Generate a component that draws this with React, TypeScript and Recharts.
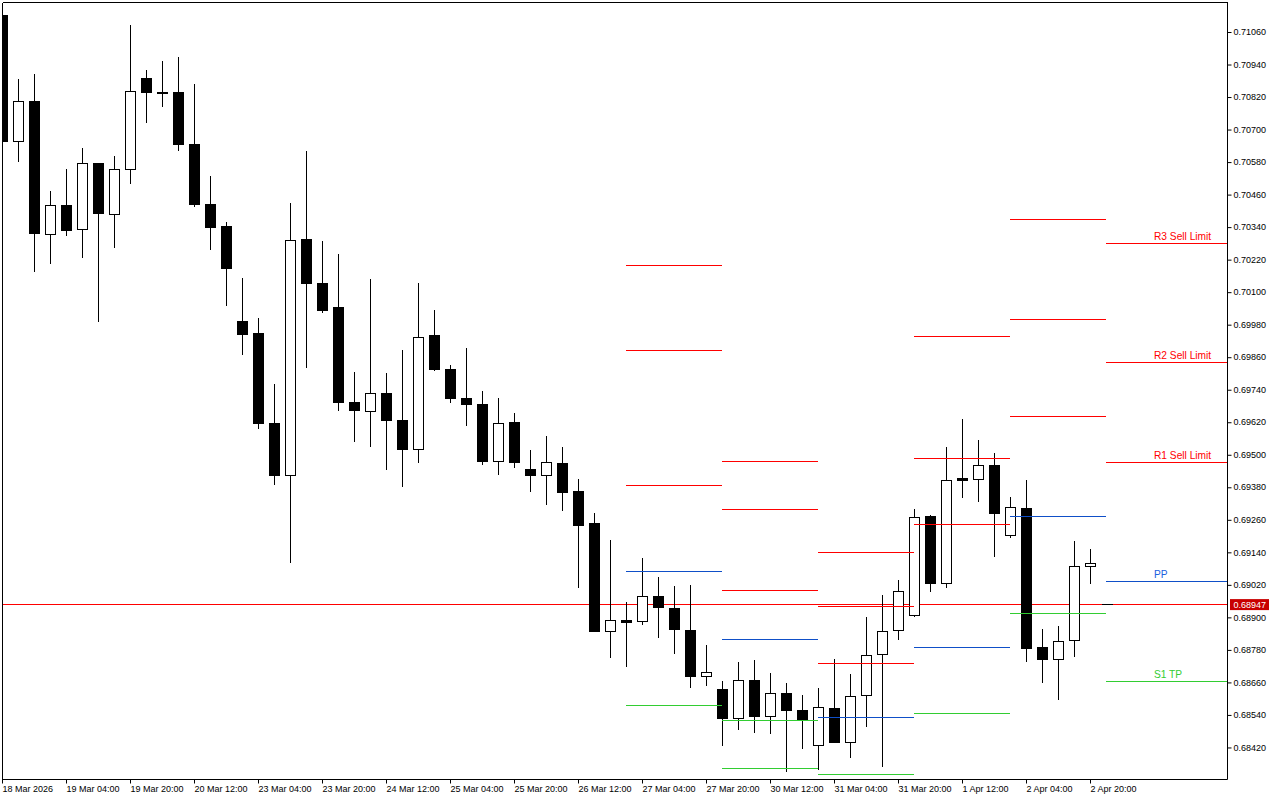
import { Bar, ComposedChart, ReferenceDot, ReferenceLine, XAxis, YAxis } from "recharts";

const opens = [
  0.71123, 0.70658, 0.70805, 0.70315, 0.70422, 0.70333, 0.70577, 0.70388, 0.70554, 0.7089, 0.70839, 0.70839,
  0.70647, 0.70425, 0.70344, 0.69994, 0.69949, 0.69617, 0.69425, 0.70296, 0.70134, 0.70045, 0.69695, 0.69661,
  0.69728, 0.69628, 0.69521, 0.69942, 0.69816, 0.69709, 0.69687, 0.69477, 0.69621, 0.69447, 0.69425, 0.6947,
  0.69366, 0.69248, 0.6885, 0.6889, 0.68887, 0.68979, 0.68935, 0.68853, 0.68684, 0.68636, 0.68529, 0.68669,
  0.68536, 0.68621, 0.68558, 0.68429, 0.68566, 0.6844, 0.68614, 0.68765, 0.68853, 0.68909, 0.69274, 0.69027,
  0.69414, 0.69411, 0.69462, 0.69204, 0.69304, 0.68791, 0.68746, 0.68816, 0.6909,
];
const highs = [
  0.71123, 0.70887, 0.70905, 0.70473, 0.70554, 0.70632, 0.70577, 0.70602, 0.71086, 0.7092, 0.70953, 0.70968,
  0.70868, 0.70529, 0.70359, 0.70152, 0.70005, 0.69761, 0.70429, 0.70621, 0.70289, 0.70241, 0.69805, 0.70149,
  0.69802, 0.69887, 0.70134, 0.70034, 0.69831, 0.69894, 0.69735, 0.69709, 0.69654, 0.69518, 0.69569, 0.69529,
  0.69411, 0.69285, 0.69185, 0.68957, 0.69119, 0.69049, 0.69016, 0.69019, 0.68798, 0.68665, 0.68735, 0.68743,
  0.68695, 0.68658, 0.68614, 0.68639, 0.68746, 0.68691, 0.68901, 0.68983, 0.69038, 0.693, 0.69278, 0.69529,
  0.69632, 0.69554, 0.69507, 0.69344, 0.69407, 0.68857, 0.68868, 0.69182, 0.69152,
];
const lows = [
  0.70658, 0.70584, 0.70178, 0.70208, 0.70311, 0.7023, 0.69994, 0.70267, 0.70503, 0.70728, 0.70787, 0.70625,
  0.70418, 0.7026, 0.70053, 0.69872, 0.69599, 0.69392, 0.69105, 0.69824, 0.70027, 0.69665, 0.69551, 0.69533,
  0.69448, 0.69385, 0.69474, 0.69813, 0.69695, 0.6961, 0.69466, 0.69429, 0.69455, 0.69367, 0.69319, 0.69296,
  0.69012, 0.6885, 0.68754, 0.68721, 0.68876, 0.68828, 0.68769, 0.68643, 0.68651, 0.68429, 0.68488, 0.68477,
  0.68474, 0.68333, 0.68418, 0.68341, 0.6844, 0.68385, 0.68499, 0.68352, 0.6882, 0.68905, 0.68998, 0.69012,
  0.69344, 0.6933, 0.69127, 0.69197, 0.68739, 0.68662, 0.68599, 0.68758, 0.69027,
];
const closes = [
  0.70658, 0.70805, 0.70319, 0.70422, 0.7033, 0.70577, 0.70392, 0.70554, 0.70842, 0.70839, 0.70835, 0.70647,
  0.70426, 0.70341, 0.70189, 0.69946, 0.69618, 0.69426, 0.70292, 0.70134, 0.70034, 0.69695, 0.69665, 0.69728,
  0.69629, 0.69522, 0.69935, 0.69817, 0.6971, 0.69688, 0.69477, 0.69617, 0.69474, 0.69426, 0.69473, 0.69363,
  0.69241, 0.6885, 0.6889, 0.68883, 0.68979, 0.68939, 0.68857, 0.68684, 0.68698, 0.68529, 0.68669, 0.68536,
  0.68621, 0.68558, 0.68525, 0.68569, 0.6844, 0.6861, 0.68761, 0.6885, 0.68997, 0.6927, 0.69027, 0.69407,
  0.69407, 0.69462, 0.69285, 0.69307, 0.68787, 0.68747, 0.68813, 0.6909, 0.69101,
];

const priceTicks = [
  0.7106, 0.7094, 0.7082, 0.707, 0.7058, 0.7046, 0.7034, 0.7022, 0.701, 0.6998, 0.6986, 0.6974, 0.6962, 0.695, 0.6938,
  0.6926, 0.6914, 0.6902, 0.689, 0.6878, 0.6866, 0.6854, 0.6842,
];
const timeTicks = [0, 4, 8, 12, 16, 20, 24, 28, 32, 36, 40, 44, 48, 52, 56, 60, 64, 68];
const timeLabels = [
  "18 Mar 2026", "19 Mar 04:00", "19 Mar 20:00", "20 Mar 12:00", "23 Mar 04:00", "23 Mar 20:00",
  "24 Mar 12:00", "25 Mar 04:00", "25 Mar 20:00", "26 Mar 12:00", "27 Mar 04:00", "27 Mar 20:00",
  "30 Mar 12:00", "31 Mar 04:00", "31 Mar 20:00", "1 Apr 12:00", "2 Apr 04:00", "2 Apr 20:00",
];

// daily pivot blocks: start/end in candle index
const blockStarts = [38.97, 44.97, 50.97, 56.97, 62.97, 68.97];
const blockEnds = [44.97, 50.97, 56.97, 62.97, 68.97, 76.5625];
const resistance = [
  [0.702, 0.69887, 0.69388],
  [0.69477, 0.693, 0.69001],
  [0.69141, 0.68942, 0.68732],
  [0.69938, 0.69488, 0.69245],
  [0.7037, 0.70001, 0.69643],
  [0.70281, 0.69842, 0.69473],
];
const pivots = [0.69071, 0.6882, 0.68532, 0.68791, 0.69274, 0.69034];
const supports = [[0.68577], [0.68521, 0.68344], [0.68322], [0.68547], [0.68916], [0.68665]];

const levelLabels = ["R3 Sell Limit", "R2 Sell Limit", "R1 Sell Limit", "PP", "S1 TP"];
const labelPrices = [0.70281, 0.69842, 0.69473, 0.69034, 0.68665];
const lastPrice = 0.68949;
const lastPriceText = "0.68947";

const RED = "#ff0000";
const BLUE = "#0f4fc8";
const GREEN = "#32cd32";
const labelColors = [RED, RED, RED, "#2060e0", GREEN];
const FONT = "'Liberation Sans', sans-serif";

const yMax = 0.711707;
const yMin = 0.683036;
const xMax = 76.5625;

const data = opens.map((open, i) => ({
  i,
  open,
  close: closes[i],
  high: highs[i],
  low: lows[i],
  range: [lows[i], highs[i]],
}));

function Candle(props: any) {
  const { x, y, width, height, payload } = props;
  const { open, close, high, low } = payload;
  const cx = x + width / 2;
  // snap to the pixel grid so 1px strokes stay sharp
  const snap = (v: number) => Math.floor(v) + 0.5;
  const at = (p: number) => snap(y + ((high - p) / (high - low)) * height);
  const top = at(Math.max(open, close));
  const bottom = at(Math.min(open, close));
  const up = close >= open;
  return (
    <g>
      <line x1={cx} x2={cx} y1={snap(y) - 0.5} y2={snap(y + height) + 0.5} stroke="#000" strokeWidth={1} />
      <rect
        x={cx - 5}
        y={top}
        width={10}
        height={Math.max(bottom - top, 1)}
        fill={up ? "#fff" : "#000"}
        stroke="#000"
        strokeWidth={1}
      />
    </g>
  );
}

function TimeTick(props: any) {
  const { x, y, index } = props;
  return (
    <text x={x} y={y + 6} textAnchor="start" fontSize={9} fontFamily={FONT} fill="#000">
      {timeLabels[index]}
    </text>
  );
}

function PriceBadge(props: any) {
  const { viewBox } = props;
  const left = viewBox.x + viewBox.width + 3;
  return (
    <g>
      <rect x={left - 0.5} y={viewBox.y - 5.5} width={39} height={11} fill="#c80000" />
      <text x={left + 3} y={viewBox.y + 3.5} fontSize={9} fontFamily={FONT} fill="#fff">
        {lastPriceText}
      </text>
    </g>
  );
}

function LevelLabel(props: any) {
  const { cx, cy, text, color } = props;
  return (
    <text x={cx - 0.5} y={cy - 4} fontSize={10.2} fontFamily={FONT} fill={color}>
      {text}
    </text>
  );
}

function segment(key: string, a: number, b: number, y: number, color: string) {
  return (
    <ReferenceLine
      key={key}
      segment={[{ x: a, y }, { x: b, y }]}
      stroke={color}
      strokeWidth={1}
      shapeRendering="crispEdges"
    />
  );
}

export default function App() {
  return (
    <div style={{ position: "absolute", left: 0, top: 0, width: 1280, height: 800, background: "#fff" }}>
      <ComposedChart
        width={1280}
        height={800}
        data={data}
        margin={{ top: 2.5, left: 2.5, right: 0, bottom: 0 }}
      >
        <XAxis
          type="number"
          dataKey="i"
          domain={[0, xMax]}
          allowDataOverflow
          ticks={timeTicks}
          interval={0}
          height={20.5}
          tick={<TimeTick />}
          tickSize={4}
          axisLine={{ stroke: "#000" }}
          tickLine={{ stroke: "#000" }}
        />
        <YAxis
          orientation="right"
          domain={[yMin, yMax]}
          allowDataOverflow
          ticks={priceTicks}
          interval={0}
          width={52.5}
          tickSize={4}
          tickMargin={2}
          tickFormatter={(v: number) => v.toFixed(5)}
          tick={{ fontSize: 9, fontFamily: FONT, fill: "#000", dy: -0.5 }}
          axisLine={{ stroke: "#000" }}
          tickLine={{ stroke: "#000" }}
        />
        <ReferenceLine
          y={lastPrice}
          stroke={RED}
          strokeWidth={1}
          shapeRendering="crispEdges"
          zIndex={100}
          label={<PriceBadge />}
        />
        <Bar dataKey="range" barSize={10} shape={<Candle />} isAnimationActive={false} />
        {segment("price-ask", 68.69, 69.4, lastPrice, "#000")}
        {blockStarts.map((start, b) => (
          <g key={start}>
            {resistance[b].map((y, n) => segment(`r${b}-${n}`, start, blockEnds[b], y, RED))}
            {segment(`p${b}`, start, blockEnds[b], pivots[b], BLUE)}
            {supports[b].map((y, n) => segment(`s${b}-${n}`, start, blockEnds[b], y, GREEN))}
          </g>
        ))}
        {levelLabels.map((text, n) => (
          <ReferenceDot
            key={text}
            x={72}
            y={labelPrices[n]}
            r={0}
            shape={(p: any) => <LevelLabel {...p} text={text} color={labelColors[n]} />}
          />
        ))}
        <ReferenceLine x={0} stroke="#000" strokeWidth={1} shapeRendering="crispEdges" />
        <ReferenceLine y={yMax} stroke="#000" strokeWidth={1} shapeRendering="crispEdges" />
      </ComposedChart>
    </div>
  );
}
